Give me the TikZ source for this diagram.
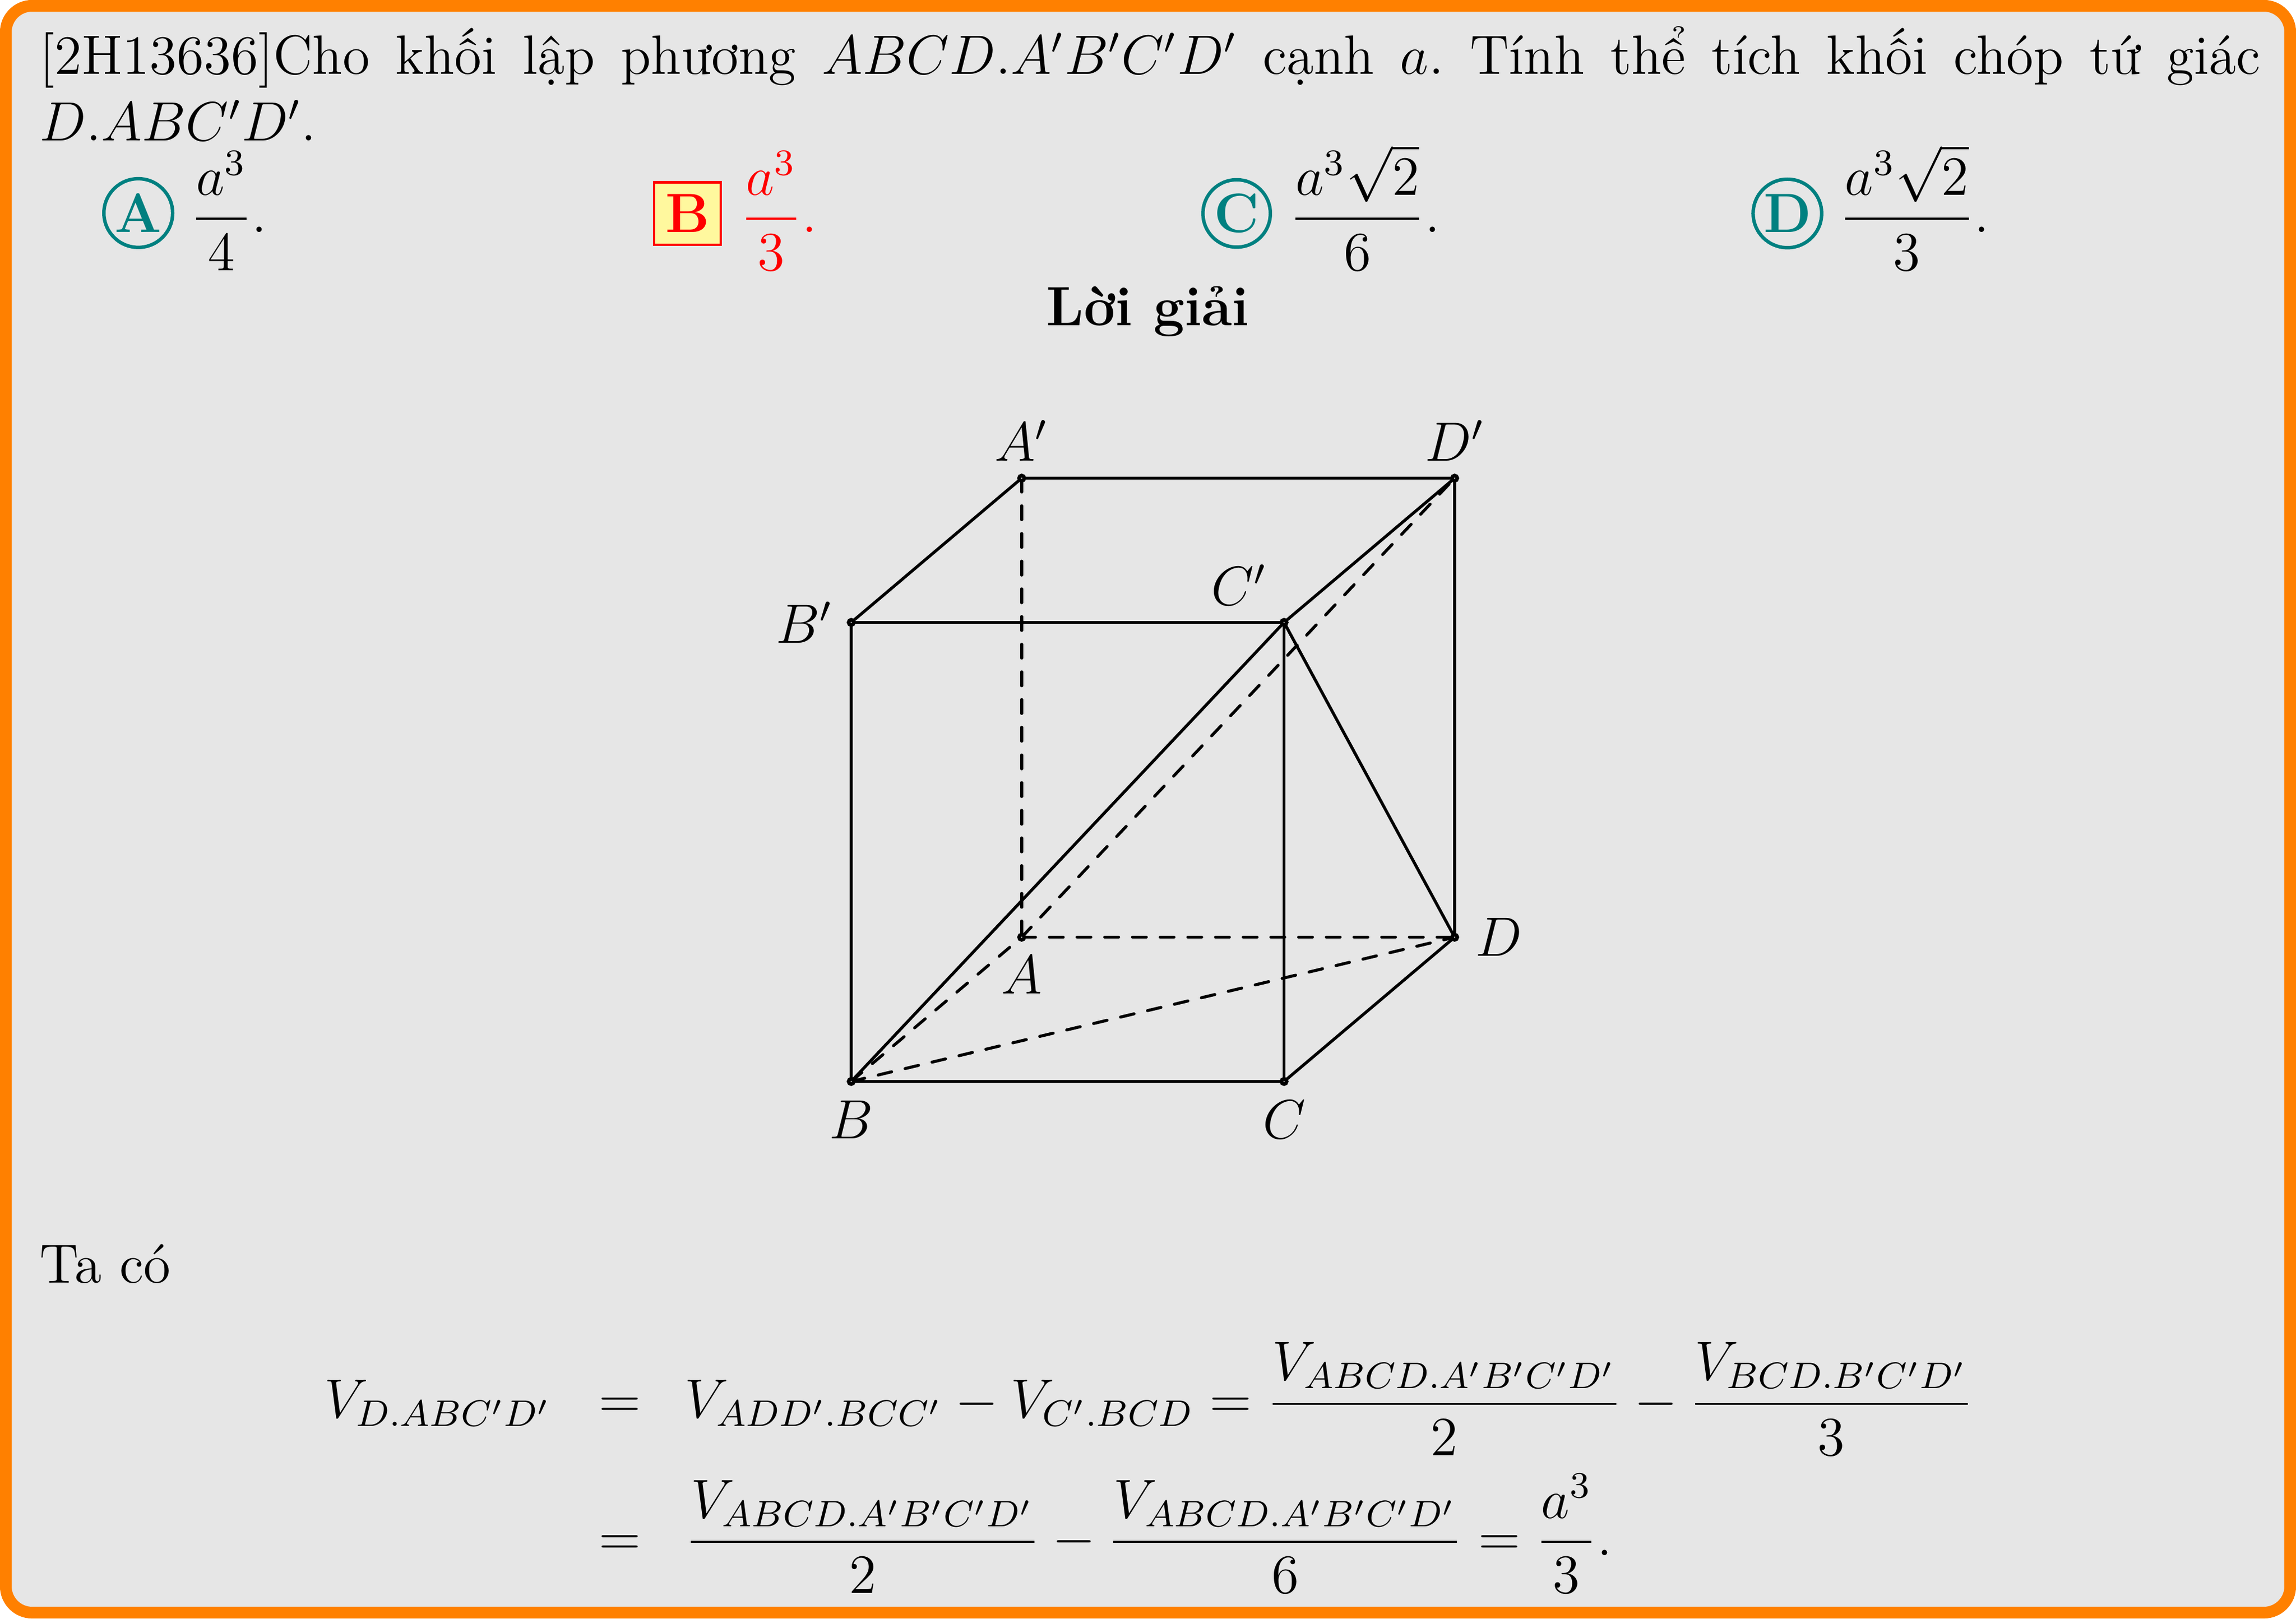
\documentclass[tikz,border=0pt,12pt]{standalone}
\usepackage{amsmath,amssymb}
\usepackage{xcolor}
\usepackage{tikz}
\usetikzlibrary{positioning,backgrounds}
\definecolor{frameorange}{RGB}{255,128,0}
\definecolor{framegray}{RGB}{230,230,230}
\definecolor{boxyellow}{RGB}{255,248,158}

\begin{document}
\begin{tikzpicture}[every node/.style={inner sep=0pt}]
  \tikzstyle{point}=[circle,draw,fill=white,line width=0.8pt,minimum size=1.13pt]
  \tikzstyle{cubeline}=[line width=0.65pt,line cap=round,line join=round]
  \tikzstyle{optcircle}=[circle,draw=teal,line width=0.75pt,inner sep=0.6pt,text=teal,font=\bfseries,anchor=base]
  \tikzstyle{optbox}=[rectangle,draw=red,fill=boxyellow,line width=0.5pt,minimum width=14.5pt,minimum height=13.5pt,text=red,font=\bfseries,anchor=base]
  \tikzstyle{eqpart}=[anchor=base west]

  \useasboundingbox (0,0) rectangle (17.484,12.330);

  % de bai
  \node[anchor=north west,text width=16.91cm,align=justify] (debai) at (0.296,12.137) {%
    \frenchspacing
    [2H13636]Cho khối lập phương $ABCD.A'B'C'D'$ cạnh $a$. Tính thể tích khối chóp tứ giác\linebreak
    $D.ABC'D'$.};

  % dap an
  \node[optcircle] (optA) at (1.053,10.559) {A};
  \node[base right=3.3pt of optA] (ansA) {$\dfrac{a^3}{4}.$};
  \node[optbox] (optB) at (5.235,10.559) {B};
  \node[base right=3.8pt of optB,text=red] (ansB) {$\dfrac{a^3}{3}.$};
  \node[optcircle] (optC) at (9.417,10.559) {C};
  \node[base right=3.7pt of optC] (ansC) {$\dfrac{a^3\sqrt{2}}{6}.$};
  \node[optcircle] (optD) at (13.611,10.559) {D};
  \node[base right=3.3pt of optD] (ansD) {$\dfrac{a^3\sqrt{2}}{3}.$};

  \node[anchor=base] (loigiai) at (8.742,9.852) {\bfseries Lời giải};

  % hinh lap phuong
  \node[point,label={[label distance=2.6pt]above:$A'$}] (Ap) at (7.780,8.687) {};
  \node[point,label={[label distance=2.6pt]above:$D'$}] (Dp) at (11.077,8.687) {};
  \node[point,label={[label distance=2.8pt]left:$B'$}] (Bp) at (6.482,7.588) {};
  \node[point,label={[label distance=4pt]above left:$C'$}] (Cp) at (9.778,7.588) {};
  \node[point,label={[label distance=2.9pt]below:$A$}] (A) at (7.780,5.190) {};
  \node[point,label={[label distance=3.4pt]right:$D$}] (D) at (11.077,5.190) {};
  \node[point,label={[label distance=3pt]below:$B$}] (B) at (6.482,4.091) {};
  \node[point,label={[label distance=3pt]below:$C$}] (C) at (9.778,4.091) {};

  \begin{scope}[on background layer]
    \draw[line width=2.54pt,draw=frameorange,fill=framegray,rounded corners=0.2cm]
      (0.0444,0.0444) rectangle (17.4396,12.2856);
    \draw[cubeline] (Ap.center) -- (Dp.center) -- (D.center) -- (C.center) -- (B.center) -- (Bp.center) -- (Ap.center);
    \draw[cubeline] (Bp.center) -- (Cp.center) -- (C.center);
    \draw[cubeline] (Cp.center) -- (Dp.center);
    \draw[cubeline] (B.center) -- (Cp.center) -- (D.center);
    \draw[cubeline,dashed] (Ap.center) -- (A.center);
    \draw[cubeline,dashed] (A.center) -- (D.center);
    \draw[cubeline,dashed] (B.center) -- (D.center);
    \draw[cubeline,dashed] (B.center) -- (A.center);
    \draw[cubeline,dashed] (A.center) -- (Dp.center);
  \end{scope}

  % loi giai
  \node[eqpart] (tacon) at (0.296,2.558) {Ta có};
  \node[eqpart] (lhs) at (2.464,1.529) {$V_{D.ABC'D'}$};
  \node[eqpart] (eqone) at (4.555,1.529) {$=$};
  \node[eqpart] (rhsone) at (5.210,1.529)
    {$\displaystyle V_{ADD'.BCC'}-V_{C'.BCD}=\frac{V_{ABCD.A'B'C'D'}}{2}-\frac{V_{BCD.B'C'D'}}{3}$};
  \node[eqpart] (eqtwo) at (4.555,0.480) {$=$};
  \node[eqpart] (rhstwo) at (5.211,0.480)
    {$\displaystyle \frac{V_{ABCD.A'B'C'D'}}{2}-\frac{V_{ABCD.A'B'C'D'}}{6}=\frac{a^3}{3}.$};
\end{tikzpicture}
\end{document}
